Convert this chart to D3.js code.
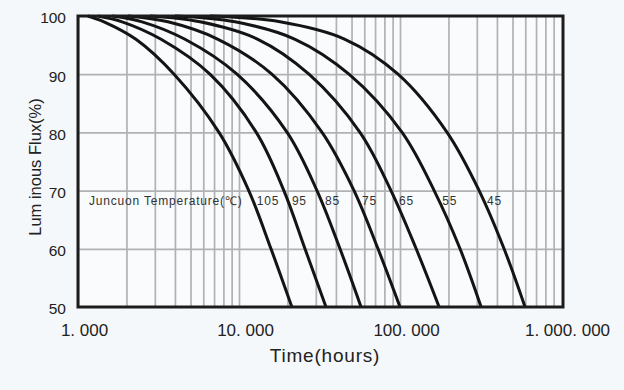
<!DOCTYPE html>
<html>
<head>
<meta charset="utf-8">
<script src="https://cdn.jsdelivr.net/npm/d3@7"></script>
<style>
  html, body { margin: 0; padding: 0; background: #f5f8fa; }
  svg { display: block; font-family: "Liberation Sans", Arial, sans-serif; }
</style>
</head>
<body>
<svg width="624" height="390"></svg>
<script>
// luminous flux levels (%) read at each point of the curves
const levels = [100, 99, 96, 90, 80, 70, 60, 50];

// hours at which each curve reaches the levels above
const t105 = [1150, 1450, 2290, 3950, 7510, 11500, 15800, 21300];
const t95  = [1330, 1880, 3280, 6600, 12800, 19000, 25700, 34700];
const t85  = [1630, 2500, 4620, 9720, 19900, 30500, 42400, 57300];
const t75  = [2040, 3620, 7410, 16000, 32800, 51800, 73000, 100000];
const t65  = [2800, 5730, 13100, 27200, 56400, 87900, 126000, 175000];
const t55  = [4000, 9450, 22300, 48200, 103000, 163000, 236000, 319000];
const t45  = [6600, 18000, 45500, 97200, 196000, 310000, 443000, 598000];

const temps = ['105', '95', '85', '75', '65', '55', '45'];
const seriesTimes = [t105, t95, t85, t75, t65, t55, t45];

const xTicks = [1000, 10000, 100000, 1000000];
const xTickLabels = ['1. 000', '10. 000', '100. 000', '1. 000. 000'];
const yTicks = [50, 60, 70, 80, 90, 100];

const svg = d3.select('svg');

// plot box
const pLeft = 78, pRight = 563, pTop = 16, pBottom = 307;

const x = d3.scaleLog()
    .domain([1000, 1000000])
    .range([pLeft, 561]);

const y = d3.scaleLinear()
    .domain([50, 100])
    .range([pBottom, pTop]);

svg.append('rect')
    .attr('x', pLeft).attr('y', pTop)
    .attr('width', pRight - pLeft).attr('height', pBottom - pTop)
    .attr('fill', '#f9fbfc');

// minor vertical grid: 1..9 in every decade
const gridX = [];
[1000, 10000, 100000].forEach(d => {
    for (let m = 1; m <= 9; m++) gridX.push(d * m);
});

svg.append('g')
    .attr('class', 'gridx')
    .attr('transform', `translate(0,${pBottom})`)
    .call(d3.axisBottom(x).tickValues(gridX).tickSize(-(pBottom - pTop)).tickFormat(''))
    .call(g => g.select('.domain').remove())
    .call(g => g.selectAll('line').attr('stroke', '#b0b2b4').attr('stroke-width', 1.7));

svg.append('g')
    .attr('class', 'gridy')
    .attr('transform', `translate(${pLeft},0)`)
    .call(d3.axisLeft(y).tickValues([60, 70, 80, 90]).tickSize(-(pRight - pLeft)).tickFormat(''))
    .call(g => g.select('.domain').remove())
    .call(g => g.selectAll('line').attr('stroke', '#b0b2b4').attr('stroke-width', 1.7));

// curves
const line = d3.line()
    .x(d => x(d[0]))
    .y(d => y(d[1]))
    .curve(d3.curveCatmullRom.alpha(0.5));

seriesTimes.forEach(ts => {
    svg.append('path')
        .datum(ts.map((t, i) => [t, levels[i]]))
        .attr('fill', 'none')
        .attr('stroke', '#141414')
        .attr('stroke-width', 3)
        .attr('d', line);
});

// frame
svg.append('rect')
    .attr('x', pLeft).attr('y', pTop)
    .attr('width', pRight - pLeft).attr('height', pBottom - pTop)
    .attr('fill', 'none')
    .attr('stroke', '#1c1c1c')
    .attr('stroke-width', 3);

// temperature labels
const labelY = y(67.5);
svg.append('text')
    .attr('x', 89).attr('y', labelY)
    .attr('font-size', 12).attr('letter-spacing', 0.8).attr('fill', '#333')
    .text('Juncuon Temperature(℃)');

svg.selectAll('.tlabel')
    .data(temps)
    .enter().append('text')
    .attr('class', 'tlabel')
    .attr('x', (d, i) => x(seriesTimes[i][levels.indexOf(70)]) + 8)
    .attr('y', labelY)
    .attr('font-size', 12).attr('letter-spacing', 0.8).attr('fill', '#333')
    .text(d => d);

// x axis labels
svg.append('g')
    .attr('transform', `translate(0,${pBottom})`)
    .call(d3.axisBottom(x).tickValues(xTicks).tickSize(0).tickPadding(17)
        .tickFormat((d, i) => xTickLabels[i]))
    .call(g => g.select('.domain').remove())
    .call(g => g.selectAll('text')
        .attr('font-size', 17)
        .attr('font-family', '"Liberation Sans", Arial, sans-serif')
        .attr('fill', '#222')
        .attr('dx', 6));

// y axis labels
svg.append('g')
    .attr('transform', `translate(${pLeft},0)`)
    .call(d3.axisLeft(y).tickValues(yTicks).tickSize(0).tickPadding(12))
    .call(g => g.select('.domain').remove())
    .call(g => g.selectAll('text')
        .attr('font-size', 15.5)
        .attr('font-family', '"Liberation Sans Narrow", "Liberation Sans", Arial, sans-serif')
        .attr('fill', '#222')
        .attr('dy', '0.45em'));

// axis titles
svg.append('text')
    .attr('x', 325).attr('y', 362)
    .attr('text-anchor', 'middle')
    .attr('font-size', 19)
    .attr('letter-spacing', 0.8)
    .attr('fill', '#222')
    .text('Time(hours)');

svg.append('text')
    .attr('transform', 'translate(41,167) rotate(-90)')
    .attr('text-anchor', 'middle')
    .attr('font-size', 16.5)
    .attr('fill', '#222')
    .text('Lum inous Flux(%)');
</script>
</body>
</html>
